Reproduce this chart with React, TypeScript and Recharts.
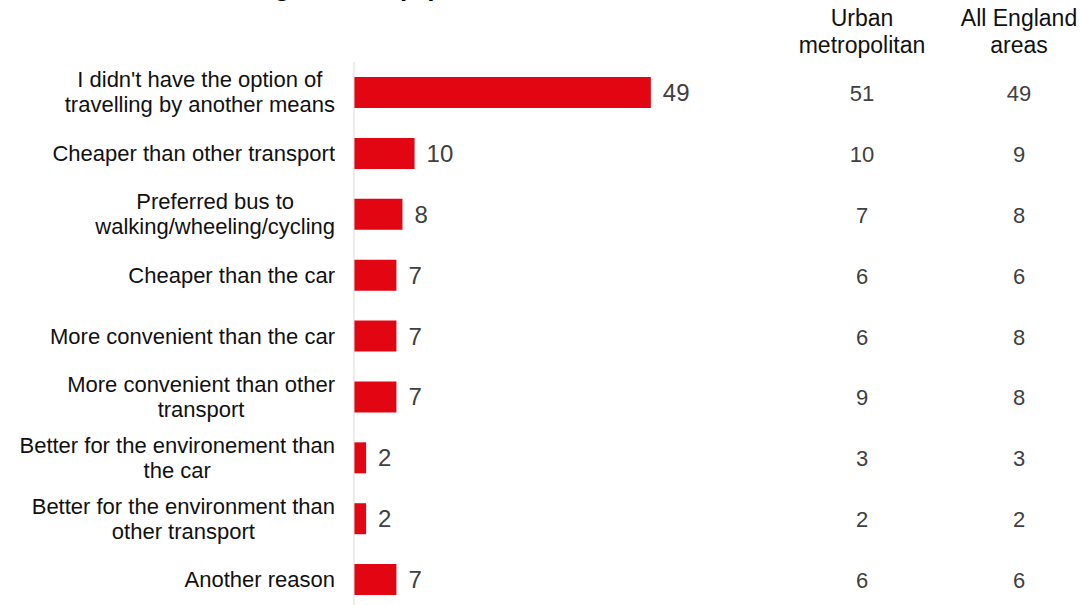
import { BarChart, Bar, XAxis, YAxis, LabelList } from 'recharts'

const FONT = '"Liberation Sans", Arial, sans-serif'
const RED = '#E20613'

// 응답 사유 (줄바꿈은 '|')
const reasons = [
  "I didn't have the option of|travelling by another means",
  'Cheaper than other transport',
  'Preferred bus to|walking/wheeling/cycling',
  'Cheaper than the car',
  'More convenient than the car',
  'More convenient than other|transport',
  'Better for the environement than|the car',
  'Better for the environment than|other transport',
  'Another reason',
]
const shares = [49, 10, 8, 7, 7, 7, 2, 2, 7]
const urbanMetro = [51, 10, 7, 6, 6, 9, 3, 2, 6]
const allEngland = [49, 9, 8, 6, 8, 8, 3, 2, 6]
const columnHeads = [['Urban', 'metropolitan'], ['All England', 'areas']]

const data = reasons.map((name, i) => ({
  name,
  share: shares[i],
  urban: urbanMetro[i],
  england: allEngland[i],
}))

// eslint-disable-next-line @typescript-eslint/no-explicit-any
function ReasonTick({ y, payload }: any) {
  const lines = String(payload.value).split('|')
  return (
    <foreignObject x={0} y={y - 30} width={335} height={60}>
      <div style={{ display: 'flex', justifyContent: 'flex-end', alignItems: 'center', height: '100%' }}>
        <div style={{ textAlign: 'center', fontFamily: FONT, fontSize: 22, lineHeight: '25px', color: '#111' }}>
          {lines.map((l, i) => <div key={i} style={{ whiteSpace: 'nowrap' }}>{l}</div>)}
        </div>
      </div>
    </foreignObject>
  )
}

// eslint-disable-next-line @typescript-eslint/no-explicit-any
const barValue = (props: any) => {
  const { x, y, width, height, value } = props
  return (
    <text x={Number(x) + Number(width) + 12} y={Number(y) + Number(height) / 2} dominantBaseline="central"
      fontFamily={FONT} fontSize={24} fill="#404040">{value}</text>
  )
}

const columnValue = (cx: number) => {
  // eslint-disable-next-line @typescript-eslint/no-explicit-any
  return (props: any) => {
    const { y, height, value } = props
    return (
      <text x={cx} y={Number(y) + Number(height) / 2 + 1} dominantBaseline="central" textAnchor="middle"
        fontFamily={FONT} fontSize={22} fill="#404040">{value}</text>
    )
  }
}

export default function App() {
  return (
    <div style={{ position: 'absolute', left: 0, top: 0, width: 1081, height: 605, overflow: 'hidden', background: '#fff' }}>
      <div style={{ position: 'absolute', left: 20, top: -26, fontFamily: FONT, fontWeight: 700, fontSize: 26, lineHeight: '26px', whiteSpace: 'nowrap', color: '#000' }}>
        Main reason for using the bus (%)
      </div>
      {columnHeads.map((h, i) => (
        <div key={i} style={{ position: 'absolute', left: i === 0 ? 782 : 939, top: 5, width: 160, textAlign: 'center', fontFamily: FONT, fontSize: 23, lineHeight: '27px', color: '#111' }}>
          {h.map((l, j) => <div key={j}>{l}</div>)}
        </div>
      ))}
      <BarChart width={1081} height={610} data={data} layout="vertical" margin={{ top: 62, right: 0, bottom: 0, left: 0 }}>
        <XAxis type="number" domain={[0, 120]} hide />
        <YAxis type="category" dataKey="name" width={354} axisLine={{ stroke: '#d9d9d9' }} tickLine={false} tick={ReasonTick} interval={0} />
        <Bar dataKey="share" fill={RED} barSize={31} isAnimationActive={false}>
          <LabelList dataKey="share" content={barValue} />
          <LabelList dataKey="urban" content={columnValue(862)} />
          <LabelList dataKey="england" content={columnValue(1019)} />
        </Bar>
      </BarChart>
    </div>
  )
}
